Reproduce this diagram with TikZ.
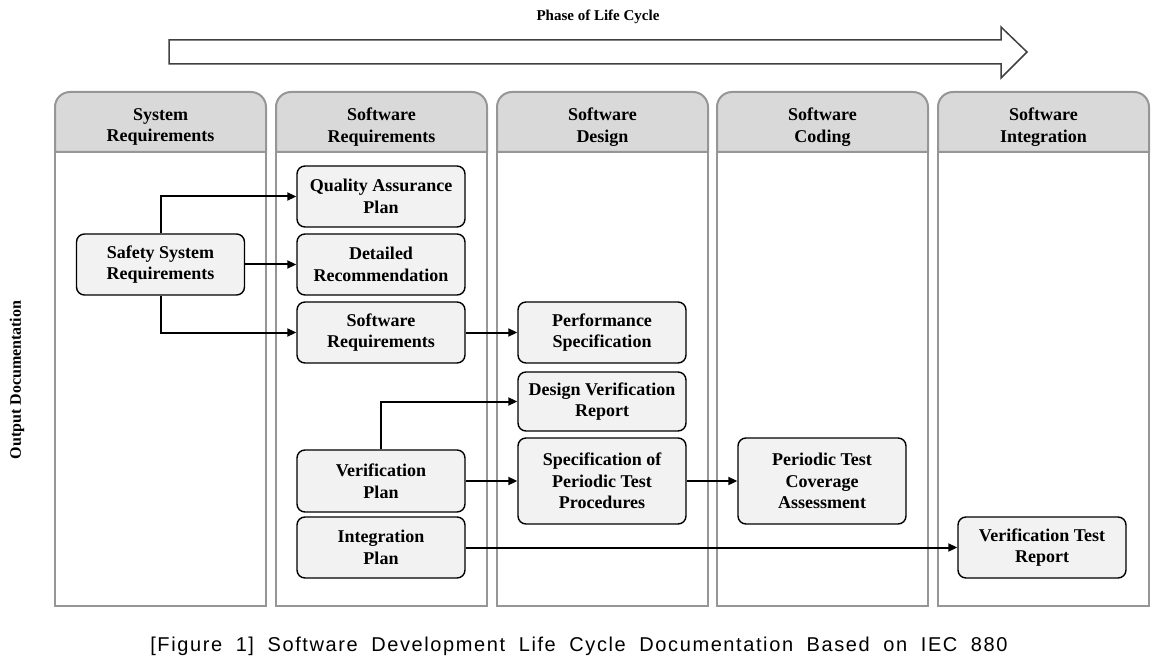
\documentclass[tikz,border=0pt]{standalone}
\usepackage{fontspec}
\setmainfont{Liberation Serif}
\newfontfamily\capfont[LetterSpace=8,WordSpace=1.9]{Liberation Sans}
\usetikzlibrary{arrows.meta}
\definecolor{lanegray}{RGB}{150,150,150}
\definecolor{headgray}{RGB}{217,217,217}
\definecolor{docgray}{RGB}{242,242,242}
\definecolor{arrowgray}{RGB}{64,64,64}

\begin{document}
\begin{tikzpicture}
[x=1pt, y=-1pt, font=\fontsize{18}{21.7}\selectfont\bfseries, line width=1.5pt,
lane/.style={draw=lanegray, line width=2pt},
lanetitle/.style={align=center, inner sep=0pt},
doc/.style={draw=black, fill=docgray, rounded corners=8pt, align=center,
  minimum width=168pt, minimum height=61pt, inner sep=0pt, line width=1.4pt},
flow/.style={-{Triangle[length=9pt,width=8pt]}, line width=2pt}]

\useasboundingbox (0,0) rectangle (1168,663);

\node[font=\fontsize{15}{18}\selectfont\bfseries] (phase) at (598,17) {Phase of Life Cycle};
\draw[draw=arrowgray, line width=1.5pt] (169,40) -- (1001,40) -- (1001,27) -- (1027,52)
  -- (1001,78) -- (1001,64) -- (169,64) -- cycle;

\foreach \n/\x/\t in {1/55/{System\\Requirements}, 2/276/{Software\\Requirements},
                      3/497/{Software\\Design}, 4/717/{Software\\Coding},
                      5/938/{Software\\Integration}} {
    \filldraw[lane, fill=headgray] (\x,152) [rounded corners=15pt] -- (\x,92)
        -- (\x+211,92) [sharp corners] -- (\x+211,152) -- cycle;
    \draw[lane] (\x,152) rectangle (\x+211,606);
    \node[lanetitle] (hd\n) at (\x+105.5,127) {\t};
}

\node[rotate=90, font=\fontsize{16}{19}\selectfont\bfseries] (outdoc) at (17,380) {Output Documentation};

\node[doc] (safe) at (160.5,264.5) {Safety System\\Requirements};
\node[doc] (qap) at (381,196.5) {Quality Assurance\\Plan};
\node[doc] (detrec) at (381,264.5) {Detailed\\Recommendation};
\node[doc] (swreq) at (381,332.5) {Software\\Requirements};
\node[doc] (perf) at (602,332.5) {Performance\\Specification};
\node[doc, minimum height=59pt] (dvr) at (602,401.5) {Design Verification\\Report};
\node[doc, minimum height=86pt] (sptp) at (602,481) {Specification of\\Periodic Test\\Procedures};
\node[doc, minimum height=62pt] (vplan) at (381,481) {Verification\\Plan};
\node[doc] (iplan) at (381,547.5) {Integration\\Plan};
\node[doc, minimum height=86pt] (ptca) at (822,481) {Periodic Test\\Coverage\\Assessment};
\node[doc] (vtr) at (1042,547.5) {Verification Test\\Report};

\draw[flow] (safe.north) |- (qap.west);
\draw[flow] (safe.east) -- (detrec.west);
\draw[flow] (safe.south) |- (swreq.west);
\draw[flow] (swreq.east) -- (perf.west);
\draw[flow] (vplan.north) |- (dvr.west);
\draw[flow] (vplan.east) -- (sptp.west);
\draw[flow] (sptp.east) -- (ptca.west);
\draw[flow] (iplan.east) -- (vtr.west);

\node[font=\capfont\fontsize{20}{24}\selectfont] (caption) at (579,646)
  {[Figure 1] Software Development Life Cycle Documentation Based on IEC 880};

\end{tikzpicture}
\end{document}
